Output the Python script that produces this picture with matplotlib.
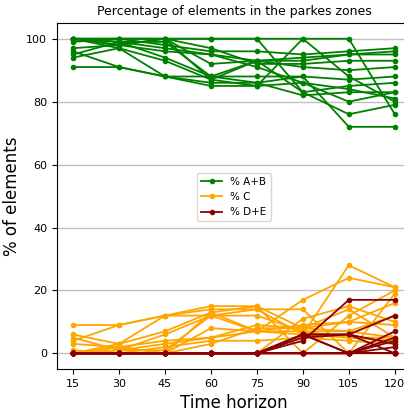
import matplotlib
matplotlib.use('Agg')
import matplotlib.pyplot as plt

horizon = [15, 30, 45, 60, 75, 90, 105, 120]

# % A+B per zone
ab = [
    [100, 100, 100, 100, 100, 100, 100, 76],
    [100, 100, 100, 100, 100, 83, 85, 86],
    [100, 98, 100, 87, 85, 100, 88, 80],
    [100, 100, 98, 96, 96, 95, 96, 97],
    [100, 99, 97, 95, 93, 93, 95, 96],
    [97, 98, 100, 97, 92, 92, 93, 93],
    [96, 91, 88, 88, 88, 88, 87, 88],
    [95, 99, 94, 88, 86, 82, 83, 83],
    [94, 97, 93, 87, 93, 94, 95, 95],
    [91, 91, 88, 85, 85, 86, 80, 83],
    [100, 97, 88, 86, 86, 88, 72, 72],
    [99, 100, 100, 92, 93, 91, 90, 91],
    [100, 98, 96, 95, 91, 86, 84, 81],
    [100, 99, 99, 88, 93, 83, 76, 79],
]

# % C per zone
c = [
    [0, 0, 0, 0, 0, 0, 0, 19],
    [0, 0, 0, 0, 0, 11, 15, 10],
    [0, 2, 0, 13, 15, 0, 12, 20],
    [0, 0, 2, 4, 4, 5, 4, 3],
    [0, 1, 3, 5, 7, 7, 5, 4],
    [3, 2, 0, 3, 8, 8, 7, 5],
    [4, 9, 12, 12, 12, 7, 7, 12],
    [5, 1, 6, 12, 14, 14, 0, 0],
    [6, 3, 7, 13, 7, 6, 5, 5],
    [9, 9, 12, 15, 15, 8, 14, 5],
    [0, 3, 12, 14, 14, 6, 28, 21],
    [1, 0, 0, 8, 7, 9, 10, 9],
    [0, 2, 4, 5, 9, 8, 10, 16],
    [0, 1, 1, 12, 7, 17, 24, 21],
]

# % D+E per zone
de = [
    [0, 0, 0, 0, 0, 0, 0, 5],
    [0, 0, 0, 0, 0, 6, 0, 4],
    [0, 0, 0, 0, 0, 0, 0, 0],
    [0, 0, 0, 0, 0, 0, 0, 0],
    [0, 0, 0, 0, 0, 0, 0, 0],
    [0, 0, 0, 0, 0, 0, 0, 2],
    [0, 0, 0, 0, 0, 5, 6, 0],
    [0, 0, 0, 0, 0, 4, 17, 17],
    [0, 0, 0, 0, 0, 0, 0, 0],
    [0, 0, 0, 0, 0, 6, 6, 12],
    [0, 0, 0, 0, 0, 6, 0, 7],
    [0, 0, 0, 0, 0, 0, 0, 0],
    [0, 0, 0, 0, 0, 6, 6, 3],
    [0, 0, 0, 0, 0, 0, 0, 0],
]

fig = plt.figure(figsize=(4.04, 4.11), dpi=100)
ax = fig.add_axes([0.141, 0.102, 0.876, 0.842])

for i, vals in enumerate(ab):
    ax.plot(horizon, vals, color='green', marker='o', markersize=3,
            linewidth=1.3, label='% A+B' if i == 0 else None)
for i, vals in enumerate(c):
    ax.plot(horizon, vals, color='orange', marker='o', markersize=3,
            linewidth=1.3, label='% C' if i == 0 else None)
for i, vals in enumerate(de):
    ax.plot(horizon, vals, color='darkred', marker='o', markersize=3,
            linewidth=1.3, label='% D+E' if i == 0 else None)

ax.set_xticks(horizon)
ax.set_yticks([0, 20, 40, 60, 80, 100])
ax.tick_params(labelsize=8)
ax.yaxis.grid(True, color='#c0c0c0', linewidth=1)
ax.set_axisbelow(True)
ax.set_title('Percentage of elements in the parkes zones', fontsize=9)
ax.set_xlabel('Time horizon', fontsize=12)
ax.set_ylabel('% of elements', fontsize=12)
ax.legend(loc='center', bbox_to_anchor=(0.5, 0.497), fontsize=7.5)

fig.savefig('out.png', dpi=100)
